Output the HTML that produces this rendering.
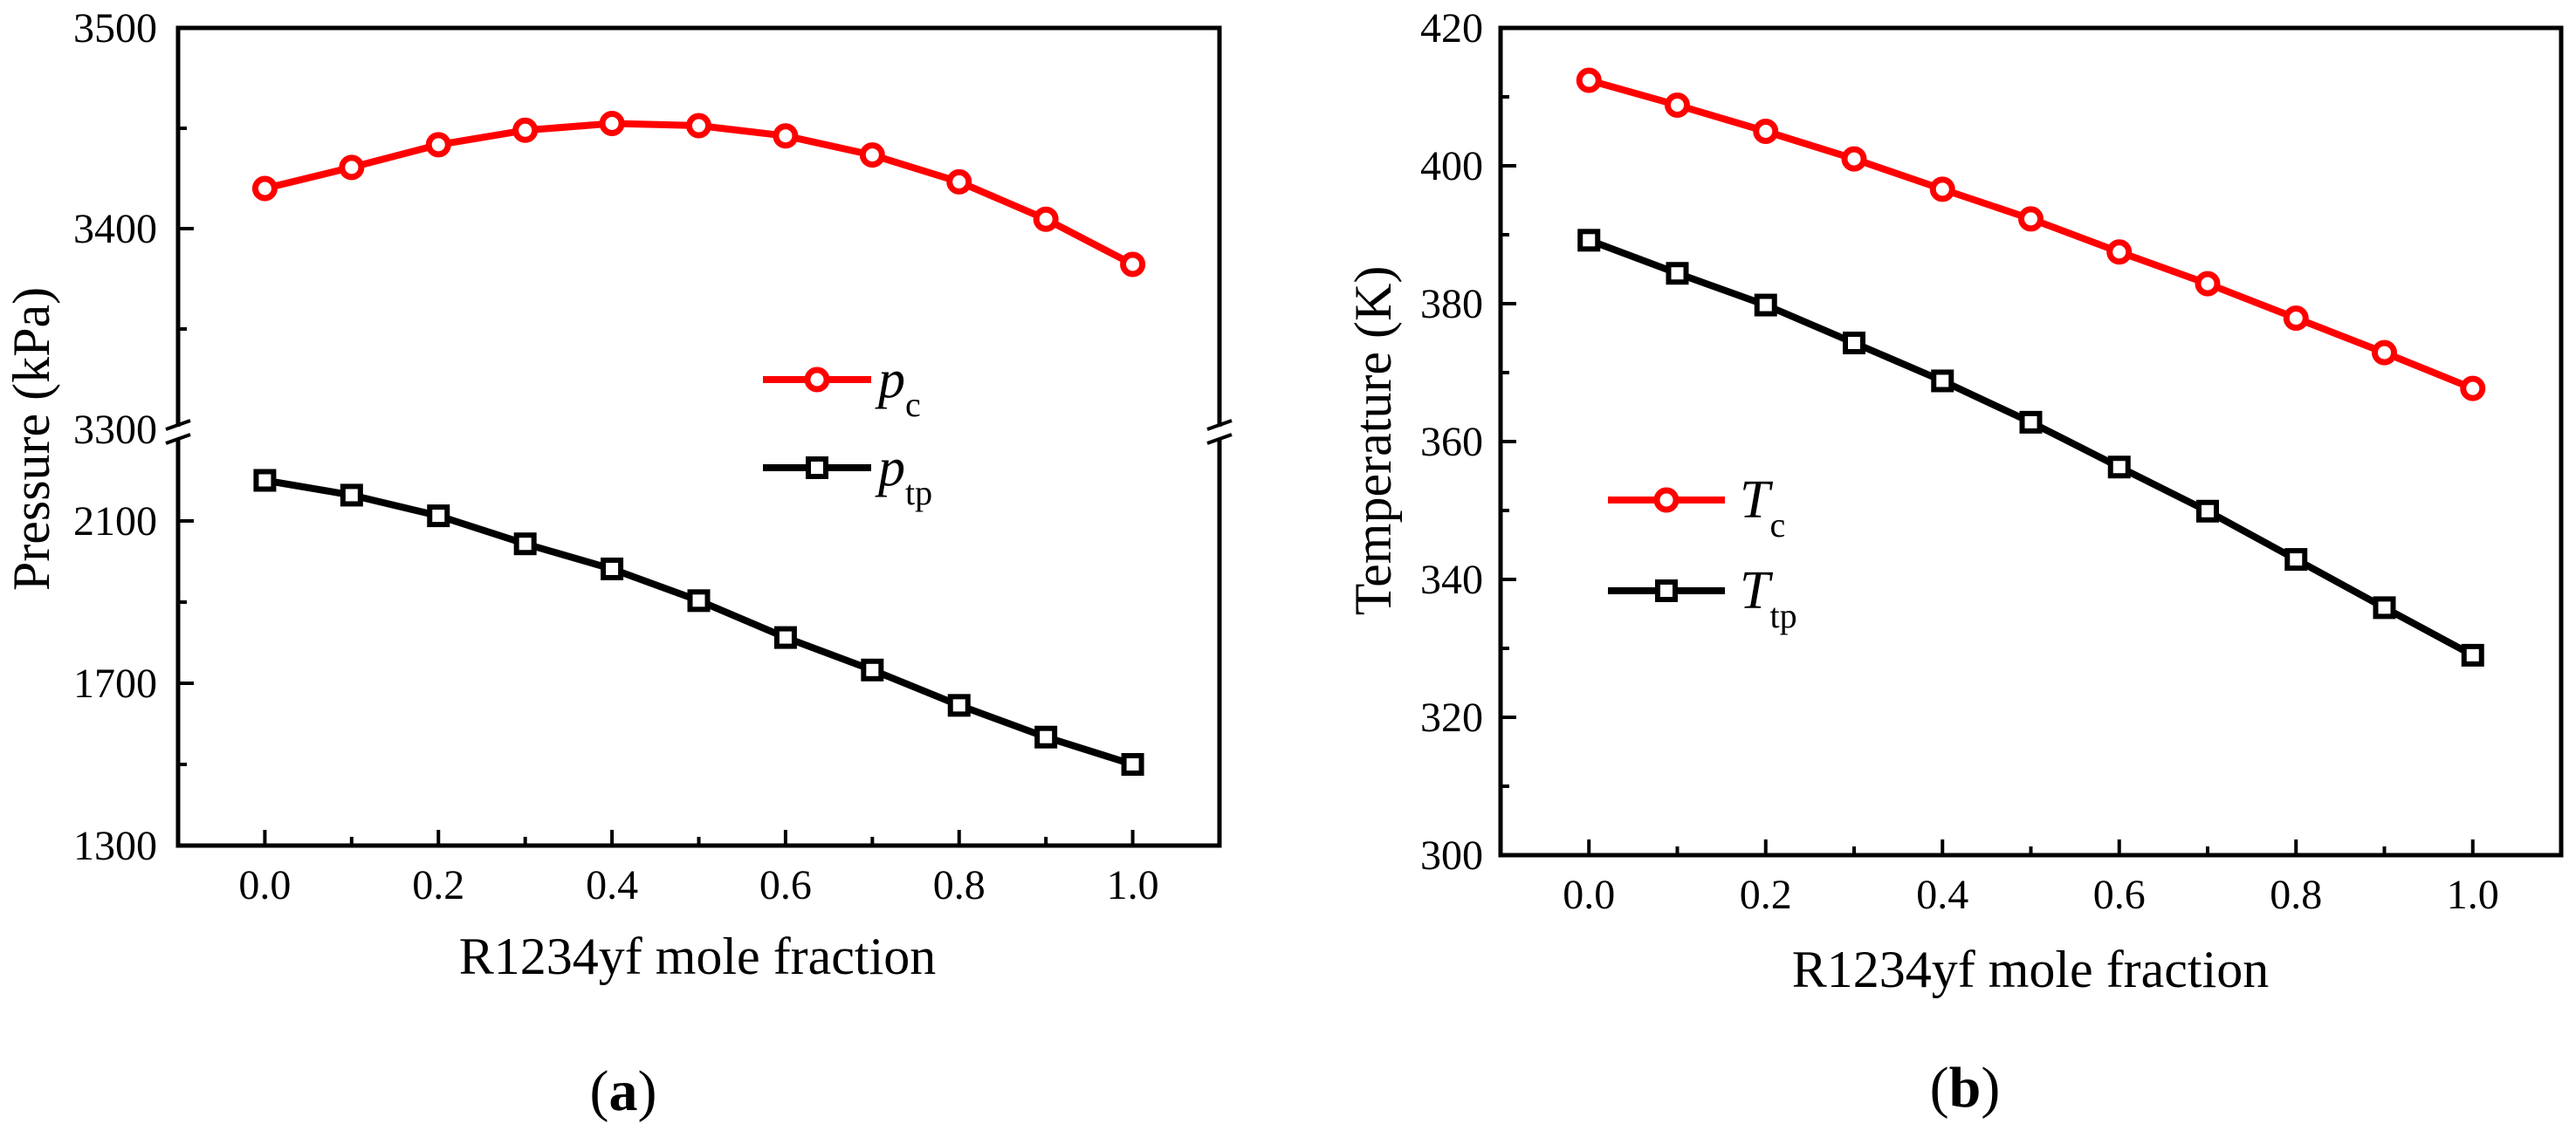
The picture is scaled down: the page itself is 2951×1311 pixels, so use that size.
<!DOCTYPE html>
<html><head><meta charset="utf-8"><style>
html,body{margin:0;padding:0;background:#fff;}
svg{display:block;font-family:"Liberation Serif",serif;}
</style></head><body>
<svg id="chart" width="2951" height="1311" viewBox="0 0 2951 1311" xmlns="http://www.w3.org/2000/svg"></svg>
<script>
const xValues = [0,0.1,0.2,0.3,0.4,0.5,0.6,0.7,0.8,0.9,1.0];
const pcValues = [3420,3430.5,3441.8,3449,3452.4,3451.3,3446.2,3436.7,3423.3,3404.7,3382.2];
const ptpValues = [2200,2163.6,2112.7,2043.6,1981.8,1903.6,1812.7,1732.7,1645.5,1567.3,1500];
const tcValues = [412.4,408.8,405.0,401.0,396.6,392.3,387.5,382.9,377.9,372.9,367.7];
const ttpValues = [389.2,384.4,379.8,374.3,368.8,362.8,356.3,349.9,342.9,335.9,329.0];
const xTicks = ["0.0","0.2","0.4","0.6","0.8","1.0"];
const leftUpperTicks = [3300,3400,3500];
const leftLowerTicks = [1300,1700,2100];
const rightTicks = [300,320,340,360,380,400,420];

const NS="http://www.w3.org/2000/svg";
const svg=document.getElementById('chart');
function mk(tag,attrs,parent){const e=document.createElementNS(NS,tag);for(const k in attrs)e.setAttribute(k,attrs[k]);(parent||svg).appendChild(e);return e;}

// Left panel scales
const L={x0:204,x1:1397,y0:32,y1:969};
function xL(v){return L.x0+(v+0.1)/1.2*(L.x1-L.x0);}
function yLU(v){return 32+(3500-v)*2.3;}        // upper segment
function yLL(v){return 969-(v-1300)*(186/400);}  // lower segment
function yL(v){return v>=3000?yLU(v):yLL(v);}
// Right panel scales
const R={x0:1719,x1:2934,y0:32,y1:980};
function xR(v){return R.x0+(v+0.1)/1.2*(R.x1-R.x0);}
function yR(v){return R.y1-(v-300)/120*(R.y1-R.y0);}

function text(str,x,y,size,anchor,parent,name){const t=mk('text',{x:x,y:y,'font-size':size,'text-anchor':anchor||'middle',fill:'#000'},parent);t.textContent=str;


return t;}

function series(vals,xf,yf,color,shape,name){
  const g=mk('g',{});
  
  
  const pts=vals.map((v,i)=>xf(xValues[i]).toFixed(1)+','+yf(v).toFixed(1)).join(' ');
  mk('polyline',{points:pts,fill:'none',stroke:color,'stroke-width':8,'stroke-linejoin':'round'},g);
  vals.forEach((v,i)=>{
    const cx=xf(xValues[i]),cy=yf(v);let m;
    if(shape==='circle') m=mk('circle',{cx:cx,cy:cy,r:11,fill:'#fff',stroke:color,'stroke-width':7},g);
    else m=mk('rect',{x:cx-10,y:cy-10,width:20,height:20,fill:'#fff',stroke:color,'stroke-width':6},g);
    
    
  });
}
function legend(x1,x2,y,color,shape,main,sub,tx,name){
  const g=mk('g',{});
  
  
  mk('line',{x1:x1,y1:y,x2:x2,y2:y,stroke:color,'stroke-width':8},g);
  const cx=(x1+x2)/2;
  if(shape==='circle') mk('circle',{cx:cx,cy:y,r:11,fill:'#fff',stroke:color,'stroke-width':7},g);
  else mk('rect',{x:cx-10,y:y-10,width:20,height:20,fill:'#fff',stroke:color,'stroke-width':6},g);
  const t=mk('text',{x:tx,y:y+20,'font-size':62,fill:'#000'},g);
  const a=mk('tspan',{'font-style':'italic'},t);a.textContent=main;
  const b=mk('tspan',{dy:22,'font-size':40},t);b.textContent=sub;
}

// ===== Left panel =====
const gl=mk('g',{});


mk('rect',{x:L.x0,y:L.y0,width:L.x1-L.x0,height:L.y1-L.y0,fill:'none',stroke:'#000','stroke-width':5},gl);
// break: white gap and slashes
mk('rect',{x:L.x0-12,y:489,width:24,height:14,fill:'#fff'},gl);
mk('rect',{x:L.x1-12,y:489,width:24,height:14,fill:'#fff'},gl);
[L.x0,L.x1].forEach(x=>{
  mk('line',{x1:x-14,y1:492,x2:x+14,y2:482,stroke:'#000','stroke-width':4},gl);
  mk('line',{x1:x-14,y1:508,x2:x+14,y2:498,stroke:'#000','stroke-width':4},gl);
});
// x ticks
for(let i=0;i<=10;i++){const v=i/10,x=xL(v);mk('line',{x1:x,y1:L.y1,x2:x,y2:L.y1-(i%2?10:18),stroke:'#000','stroke-width':4},gl);}
xTicks.forEach(s=>text(s,xL(parseFloat(s)),1030,48,'middle',gl,'x-tick-label'));
leftUpperTicks.forEach(v=>{const y=yLU(v);if(v>3300)mk('line',{x1:L.x0,y1:y,x2:L.x0+18,y2:y,stroke:'#000','stroke-width':4},gl);text(String(v),180,y+16,48,'end',gl,'y-tick-label');});
[3450,3350].forEach(v=>{const y=yLU(v);mk('line',{x1:L.x0,y1:y,x2:L.x0+10,y2:y,stroke:'#000','stroke-width':4},gl);});
leftLowerTicks.forEach(v=>{const y=yLL(v);mk('line',{x1:L.x0,y1:y,x2:L.x0+18,y2:y,stroke:'#000','stroke-width':4},gl);text(String(v),180,y+16,48,'end',gl,'y-tick-label');});
[1500,1900].forEach(v=>{const y=yLL(v);mk('line',{x1:L.x0,y1:y,x2:L.x0+10,y2:y,stroke:'#000','stroke-width':4},gl);});
text('R1234yf mole fraction',799,1116,60,'middle',gl,'x-axis-title');
const yl=text('Pressure (kPa)',0,0,60,'middle',gl,'y-axis-title');yl.setAttribute('transform','translate(56,503) rotate(-90)');
const pa=mk('text',{x:714,y:1272,'font-size':66,'text-anchor':'middle'},gl);


pa.innerHTML='(<tspan font-weight="bold">a</tspan>)';
series(pcValues,xL,yL,'#ff0000','circle','pc-series');
series(ptpValues,xL,yL,'#000','square','ptp-series');
legend(874,998,435,'#ff0000','circle','p','c',1006,'legend-pc');
legend(874,998,536,'#000','square','p','tp',1006,'legend-ptp');

// ===== Right panel =====
const gr=mk('g',{});


mk('rect',{x:R.x0,y:R.y0,width:R.x1-R.x0,height:R.y1-R.y0,fill:'none',stroke:'#000','stroke-width':5},gr);
for(let i=0;i<=10;i++){const v=i/10,x=xR(v);mk('line',{x1:x,y1:R.y1,x2:x,y2:R.y1-(i%2?10:18),stroke:'#000','stroke-width':4},gr);}
xTicks.forEach(s=>text(s,xR(parseFloat(s)),1041,48,'middle',gr,'x-tick-label'));
rightTicks.forEach(v=>{const y=yR(v);mk('line',{x1:R.x0,y1:y,x2:R.x0+18,y2:y,stroke:'#000','stroke-width':4},gr);text(String(v),1699,y+16,48,'end',gr,'y-tick-label');});
for(let v=310;v<420;v+=20){const y=yR(v);mk('line',{x1:R.x0,y1:y,x2:R.x0+10,y2:y,stroke:'#000','stroke-width':4},gr);}
text('R1234yf mole fraction',2326,1131,60,'middle',gr,'x-axis-title');
const yr=text('Temperature (K)',0,0,60,'middle',gr,'y-axis-title');yr.setAttribute('transform','translate(1593,505) rotate(-90)');
const pb=mk('text',{x:2251,y:1268,'font-size':66,'text-anchor':'middle'},gr);


pb.innerHTML='(<tspan font-weight="bold">b</tspan>)';
series(tcValues,xR,yR,'#ff0000','circle','tc-series');
series(ttpValues,xR,yR,'#000','square','ttp-series');
legend(1842,1976,573,'#ff0000','circle','T','c',1993,'legend-tc');
legend(1842,1976,677,'#000','square','T','tp',1993,'legend-ttp');
</script>
</body></html>
